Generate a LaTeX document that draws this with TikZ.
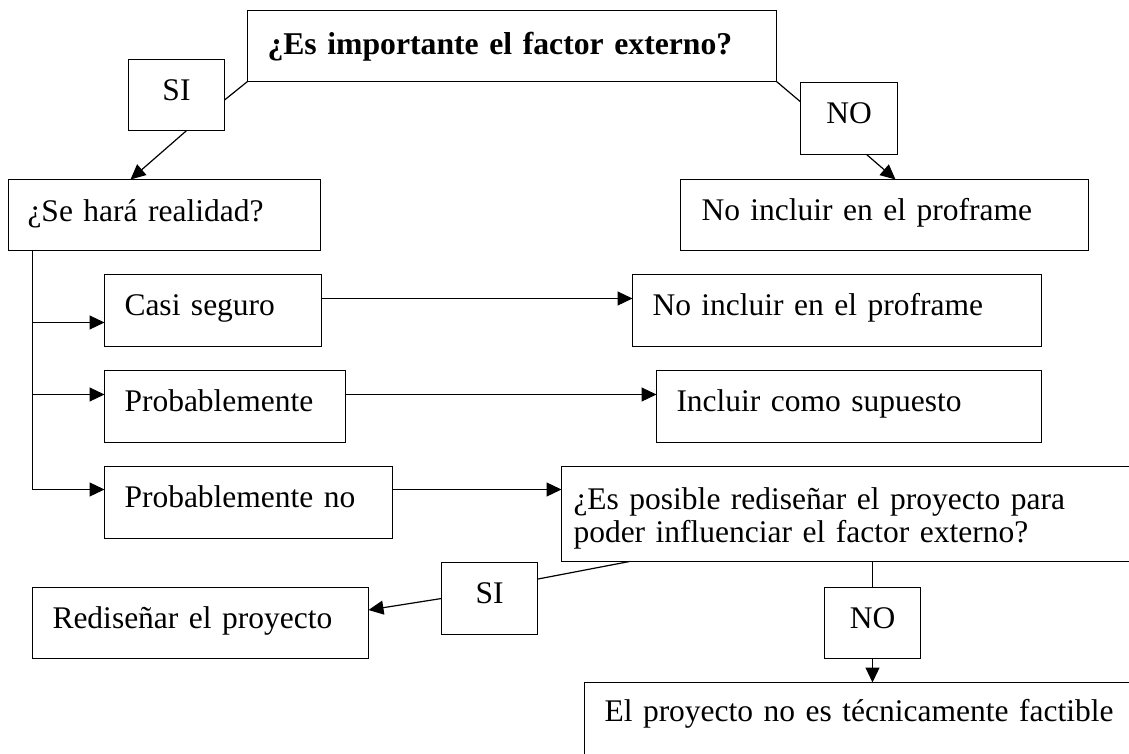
\documentclass[tikz,border=0pt]{standalone}
\usepackage{fontspec}
\setmainfont{Liberation Serif}
\usetikzlibrary{arrows.meta,calc}
\tikzset{
  bx/.code n args={4}{%
    \pgfmathsetmacro\bxtw{#1-2*#4}%
    \pgfmathsetmacro\bxtd{#2-#3}%
    \edef\bxnext{\noexpand\tikzset{minimum width=#1pt, minimum height=#2pt,
      text height=#3pt, inner xsep=#4pt, text width=\bxtw pt, text depth=\bxtd pt}}%
    \bxnext},
  box/.style={draw, line width=1.2pt, anchor=north west, inner ysep=0pt, outer sep=0pt, align=left,
    font=\fontsize{31.5}{33}\selectfont},
  lbl/.style={box, align=center},
  ln/.style={line width=1.2pt},
  arr/.style={line width=1.2pt, -{Triangle[length=15pt,width=14pt]}}
}
\begin{document}
\begin{tikzpicture}[x=1pt,y=-1pt]
\useasboundingbox (0,0) rectangle (1129,754);
\clip (0,0) rectangle (1129,754);
% nodes
\node[box, bx={529}{71}{44}{20}, font=\bfseries\fontsize{31.7}{38}\selectfont] (top) at (247.5,10.5) {¿Es importante el factor externo?};
\node[lbl, bx={96}{71}{41}{4}] (si1) at (128.5,59.5) {SI};
\node[lbl, bx={97}{72}{41}{4}] (no1) at (800.5,82.5) {NO};
\node[box, bx={312}{71}{42}{19}] (sehara) at (8.5,179.5) {¿Se hará realidad?};
\node[box, bx={408}{71}{41}{21}] (noincl1) at (680.5,179.5) {No incluir en el proframe};
\node[box, bx={217}{72}{41}{20}] (casi) at (104.5,274.5) {Casi seguro};
\node[box, bx={409}{72}{41}{20}] (noincl2) at (632.5,274.5) {No incluir en el proframe};
\node[box, bx={241}{72}{41}{20}] (prob) at (104.5,370.5) {Probablemente};
\node[box, bx={385}{72}{41}{20}] (incl) at (656.5,370.5) {Incluir como supuesto};
\node[box, bx={288}{72}{41}{20}] (probno) at (104.5,466.5) {Probablemente no};
\node[box, bx={600}{95}{43}{12}] (esposible) at (561.5,466.5) {¿Es posible rediseñar el proyecto para\\poder influenciar el factor externo?};
\node[lbl, bx={96}{72}{41}{4}] (si2) at (441.5,562.5) {SI};
\node[box, bx={336}{71}{41}{20}] (redis) at (32.5,587.5) {Rediseñar el proyecto};
\node[lbl, bx={96}{71}{41}{4}] (no2) at (824.5,587.5) {NO};
\node[box, bx={570}{88}{39}{20}] (final) at (584.5,682.5) {El proyecto no es técnicamente factible};
% connectors
\draw[ln] (si1.-6.5) -- (top.south west);
\draw[arr] (si1.-74.3) -- ($(sehara.north west)+(122,0)$);
\draw[ln] (top.south east) -- (no1.161);
\draw[arr] (no1.-64) -- ($(noincl1.north west)+(215,0)$);
\coordinate (trunk) at ($(sehara.south west)+(24,0)$);
\coordinate (casiIn) at ($(casi.west)+(0,12)$);
\coordinate (probIn) at ($(prob.west)+(0,-12)$);
\coordinate (probnoIn) at ($(probno.west)+(0,-13)$);
\draw[ln] (trunk) -- (trunk |- probnoIn);
\draw[arr] (trunk |- casiIn) -- (casiIn);
\draw[arr] (trunk |- probIn) -- (probIn);
\draw[arr] (trunk |- probnoIn) -- (probnoIn);
\draw[arr] ($(casi.east)+(0,-12)$) -- ($(noincl2.west)+(0,-12)$);
\draw[arr] ($(prob.east)+(0,-12)$) -- ($(incl.west)+(0,-12)$);
\coordinate (probnoOut) at ($(probno.east)+(0,-13)$);
\draw[arr] (probnoOut) -- (probnoOut -| esposible.west);
\draw[ln] ($(esposible.south west)+(68,0)$) -- (si2.22.5);
\draw[arr] (si2.west) -- ($(redis.east)+(0,-13)$);
\draw[ln] (no2.north |- esposible.south) -- (no2.north);
\draw[arr] (no2.south) -- (no2.south |- final.north);
\end{tikzpicture}
\end{document}
